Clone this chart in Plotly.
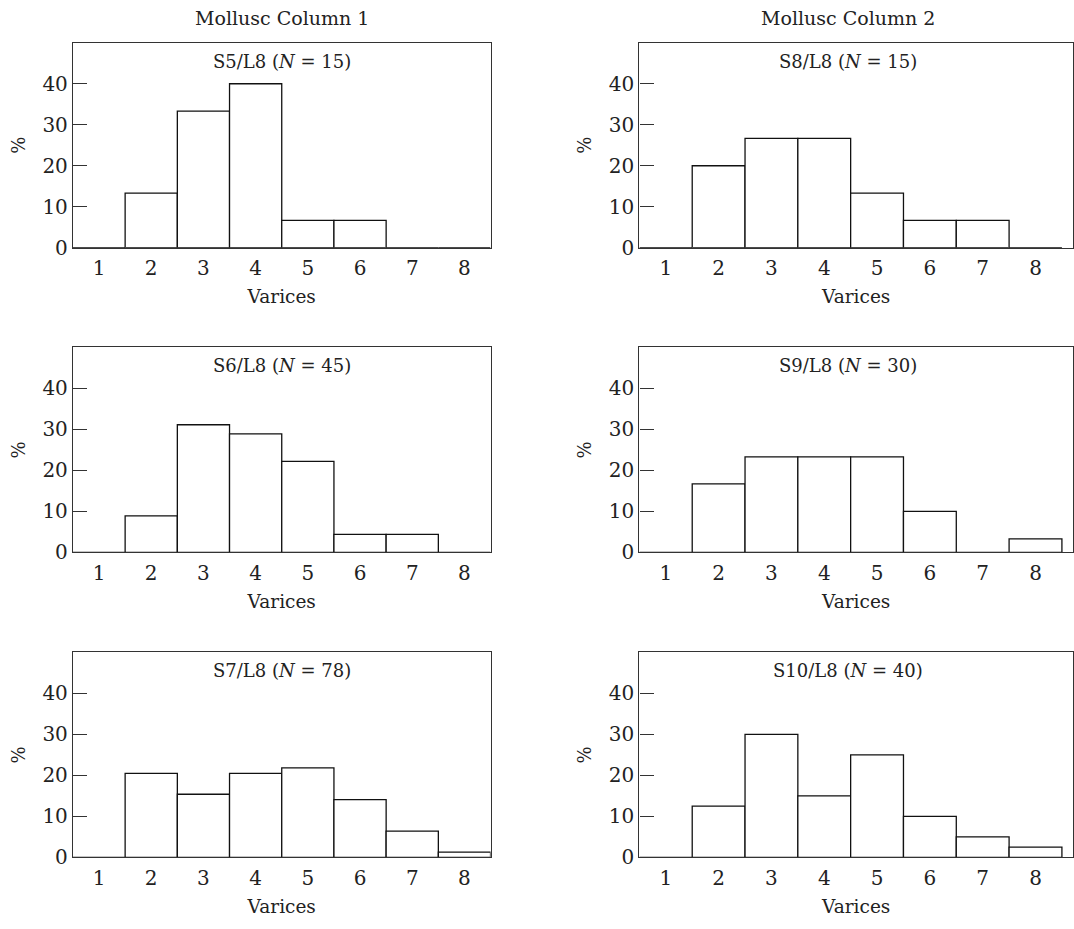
import plotly.graph_objects as go

# ---- data ----
varices = [1, 2, 3, 4, 5, 6, 7, 8]
tick_labels = ["1", "2", "3", "4", "5", "6", "7", "8"]
y_ticks = [0, 10, 20, 30, 40]

s5_l8 = [0, 13.3, 33.3, 40.0, 6.7, 6.7, 0, 0]          # N = 15
s6_l8 = [0, 8.9, 31.1, 28.9, 22.2, 4.4, 4.4, 0]         # N = 45
s7_l8 = [0, 20.5, 15.4, 20.5, 21.8, 14.1, 6.4, 1.3]     # N = 78
s8_l8 = [0, 20.0, 26.7, 26.7, 13.3, 6.7, 6.7, 0]        # N = 15
s9_l8 = [0, 16.7, 23.3, 23.3, 23.3, 10.0, 0, 3.3]       # N = 30
s10_l8 = [0, 12.5, 30.0, 15.0, 25.0, 10.0, 5.0, 2.5]    # N = 40

panel_titles = [
    "S5/L8 (<i>N</i> = 15)", "S8/L8 (<i>N</i> = 15)",
    "S6/L8 (<i>N</i> = 45)", "S9/L8 (<i>N</i> = 30)",
    "S7/L8 (<i>N</i> = 78)", "S10/L8 (<i>N</i> = 40)",
]
column_titles = ["Mollusc Column 1", "Mollusc Column 2"]
series = [s5_l8, s8_l8, s6_l8, s9_l8, s7_l8, s10_l8]

# ---- layout geometry ----
W, H = 1074, 929
FONT = "DejaVu Serif"
TXT = "#222222"
col_px = [(73, 491), (640, 1074)]
row_px = [(43.3, 251), (351.7, 559.7), (660.7, 868.7)]
x_ranges = [[0.5, 8.5], [0.5, 8.71]]

fig = go.Figure()
layout = dict(
    width=W, height=H,
    margin=dict(l=0, r=0, t=0, b=0),
    paper_bgcolor="white", plot_bgcolor="white",
    showlegend=False,
    font=dict(family=FONT, size=18, color=TXT),
    annotations=[],
)

idx = 0
for r in range(3):
    for c in range(2):
        n = idx + 1
        xa = "x" if n == 1 else f"x{n}"
        ya = "y" if n == 1 else f"y{n}"
        fig.add_trace(go.Bar(
            x=varices, y=series[idx], width=1,
            marker=dict(color="white", line=dict(color="#111111", width=1.3)),
            xaxis=xa, yaxis=ya, hoverinfo="x+y",
        ))
        x0, x1 = col_px[c]
        top, bot = row_px[r]
        layout["xaxis" if n == 1 else f"xaxis{n}"] = dict(
            domain=[x0 / W, min(1.0, x1 / W)],
            range=x_ranges[c], anchor=ya,
            tickmode="array", tickvals=varices, ticktext=tick_labels,
            ticks="", ticklabelstandoff=2, showgrid=False, zeroline=False,
            showline=True, mirror=True, linecolor="#333333", linewidth=1.2,
            tickfont=dict(family=FONT, size=20, color=TXT),
            title=dict(text="Varices", font=dict(family=FONT, size=18.5, color=TXT), standoff=11),
        )
        layout["yaxis" if n == 1 else f"yaxis{n}"] = dict(
            domain=[1 - bot / H, 1 - top / H],
            range=[0, 50], anchor=xa,
            tickmode="array", tickvals=y_ticks,
            ticks="inside", ticklen=14, tickcolor="#333333", tickwidth=1.2,
            showgrid=False, zeroline=False,
            showline=True, mirror=True, linecolor="#333333", linewidth=1.2,
            tickfont=dict(family=FONT, size=20, color=TXT),
            title=dict(text="%", font=dict(family=FONT, size=18, color=TXT), standoff=12),
        )
        layout["annotations"].append(dict(
            text=panel_titles[idx], showarrow=False,
            xref=f"{xa} domain", yref=f"{ya} domain",
            x=(491 - 73) / 2 / (x1 - x0) if c == 1 else 0.5, y=1, yanchor="top", yshift=-6,
            font=dict(family=FONT, size=18, color=TXT),
        ))
        idx += 1

for c, t in enumerate(column_titles):
    x0, _ = col_px[c]
    cx = x0 + (491 - 73) / 2
    layout["annotations"].append(dict(
        text=t, showarrow=False, xref="paper", yref="paper",
        x=cx / W, y=1 - 18 / H, xanchor="center", yanchor="middle",
        font=dict(family=FONT, size=19, color=TXT),
    ))

fig.update_layout(**layout)
fig.write_html("out.html")
